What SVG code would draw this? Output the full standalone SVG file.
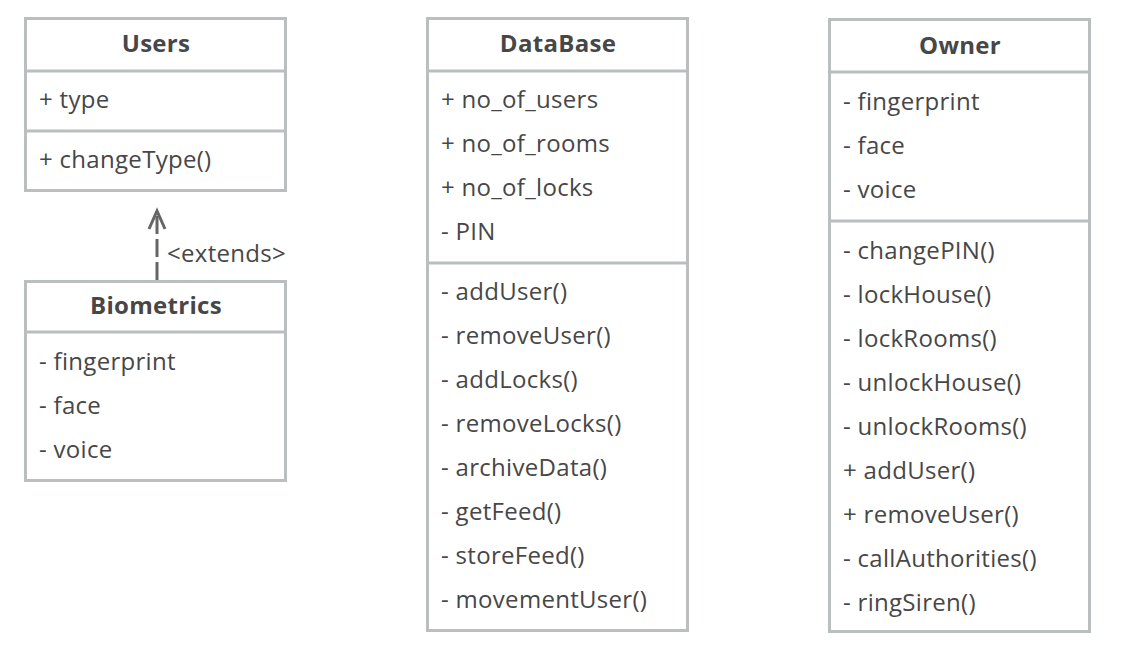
<svg xmlns="http://www.w3.org/2000/svg" width="1140" height="668" viewBox="0 0 1140 668">
<style>
.box{fill:#fff;stroke:#babebf;stroke-width:3}
.div{stroke:#babebf;stroke-width:3}
.t{font-family:"Open Sans","Noto Sans",sans-serif;font-size:24px;letter-spacing:0.3px;fill:#474747}
.h{font-family:"Open Sans","Noto Sans",sans-serif;font-size:24px;letter-spacing:0.3px;font-weight:bold;fill:#474747;text-anchor:middle}
.c{stroke:#666;stroke-width:3;fill:none}
</style>
<rect width="1140" height="668" fill="#fff"/>
<g id="Users">
<rect class="box" x="25.5" y="18.5" width="260" height="172"/>
<line class="div" x1="25" y1="71" x2="286" y2="71"/>
<line class="div" x1="25" y1="131" x2="286" y2="131"/>
<text class="h" x="156" y="52">Users</text>
<text class="t" x="39" y="108">+ type</text>
<text class="t" x="39" y="168">+ changeType()</text>
</g>
<g id="Biometrics">
<rect class="box" x="25.5" y="281.5" width="260" height="199"/>
<line class="div" x1="25" y1="332" x2="286" y2="332"/>
<text class="h" x="156" y="314">Biometrics</text>
<text class="t" x="39" y="370">- fingerprint</text>
<text class="t" x="39" y="414">- face</text>
<text class="t" x="39" y="458">- voice</text>
</g>
<g id="DataBase">
<rect class="box" x="427.5" y="18.5" width="260" height="612"/>
<line class="div" x1="427" y1="71" x2="688" y2="71"/>
<line class="div" x1="427" y1="263" x2="688" y2="263"/>
<text class="h" x="558" y="52">DataBase</text>
<text class="t" x="441" y="108">+ no_of_users</text>
<text class="t" x="441" y="152">+ no_of_rooms</text>
<text class="t" x="441" y="196">+ no_of_locks</text>
<text class="t" x="441" y="240">- PIN</text>
<text class="t" x="441" y="300">- addUser()</text>
<text class="t" x="441" y="344">- removeUser()</text>
<text class="t" x="441" y="388">- addLocks()</text>
<text class="t" x="441" y="432">- removeLocks()</text>
<text class="t" x="441" y="476">- archiveData()</text>
<text class="t" x="441" y="520">- getFeed()</text>
<text class="t" x="441" y="564">- storeFeed()</text>
<text class="t" x="441" y="608">- movementUser()</text>
</g>
<g id="Owner">
<rect class="box" x="829.5" y="19.5" width="260" height="612"/>
<line class="div" x1="829" y1="72" x2="1090" y2="72"/>
<line class="div" x1="829" y1="221" x2="1090" y2="221"/>
<text class="h" x="960" y="54">Owner</text>
<text class="t" x="843" y="110">- fingerprint</text>
<text class="t" x="843" y="154">- face</text>
<text class="t" x="843" y="198">- voice</text>
<text class="t" x="843" y="259">- changePIN()</text>
<text class="t" x="843" y="303">- lockHouse()</text>
<text class="t" x="843" y="347">- lockRooms()</text>
<text class="t" x="843" y="391">- unlockHouse()</text>
<text class="t" x="843" y="435">- unlockRooms()</text>
<text class="t" x="843" y="479">+ addUser()</text>
<text class="t" x="843" y="523">+ removeUser()</text>
<text class="t" x="843" y="567">- callAuthorities()</text>
<text class="t" x="843" y="611">- ringSiren()</text>
</g>
<g id="connectors">
<line class="c" x1="157" y1="280" x2="157" y2="212" stroke-dasharray="18 5"/>
<polyline class="c" points="149,229 157,211 165,229"/>
<text class="t" x="167" y="262">&lt;extends&gt;</text>
</g>
</svg>
